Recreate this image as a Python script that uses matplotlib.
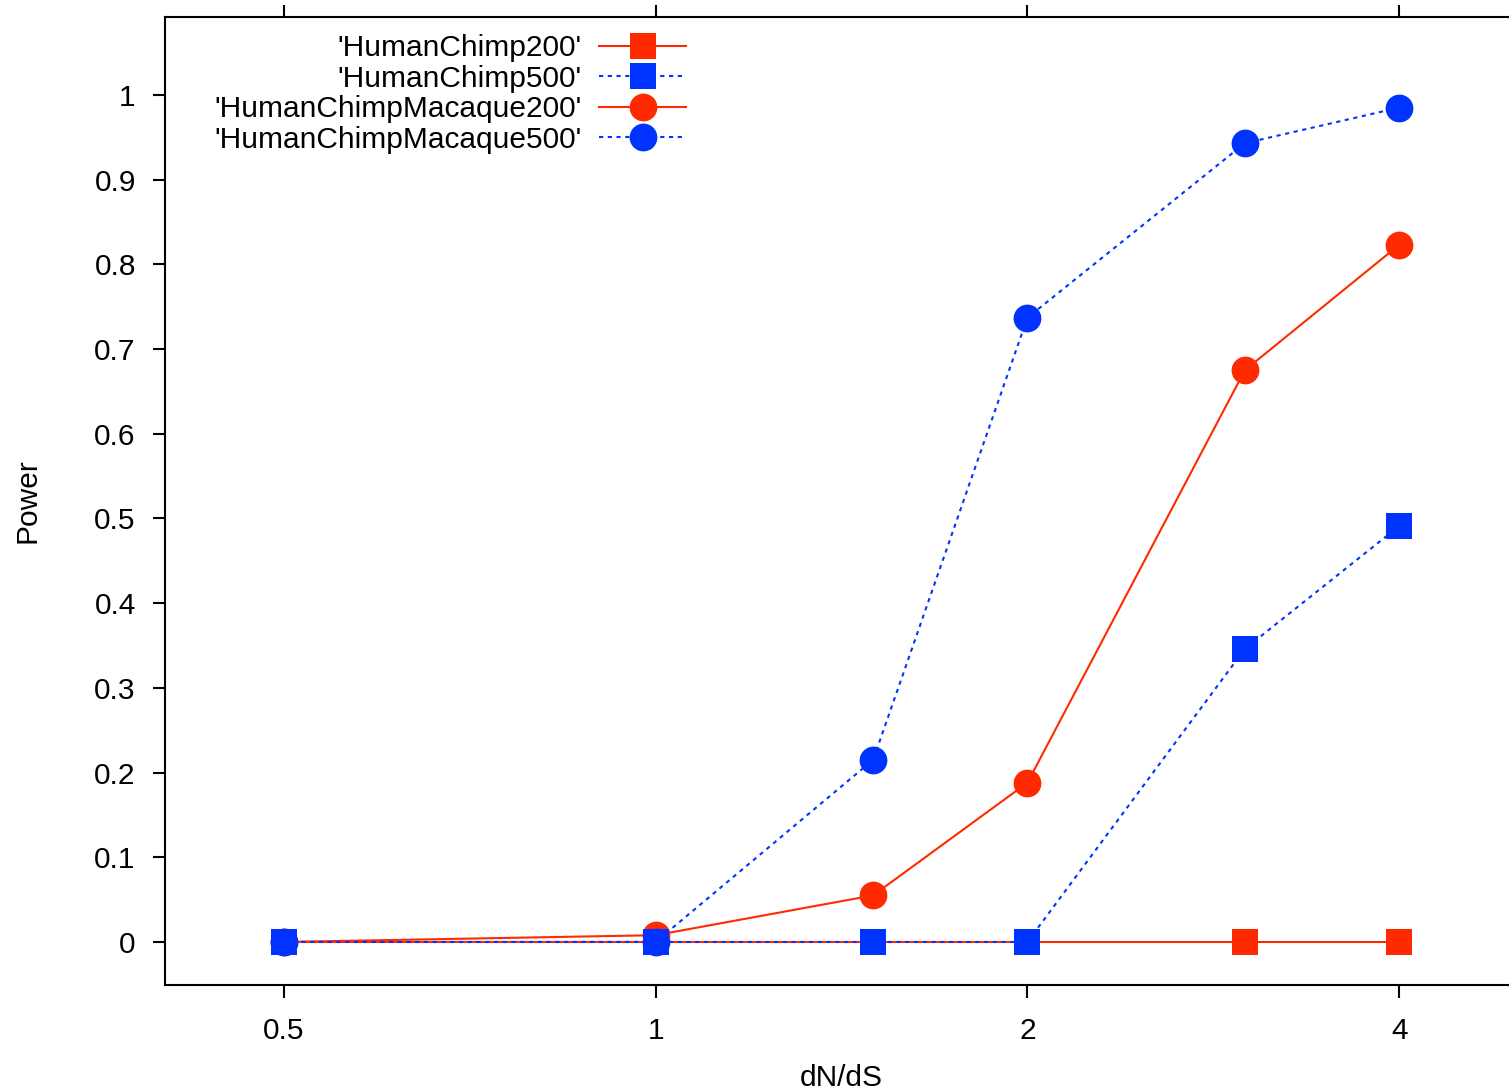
import matplotlib
matplotlib.use("Agg")
import matplotlib.pyplot as plt
from matplotlib.lines import Line2D

plt.rcParams['font.family'] = ['Liberation Sans', 'DejaVu Sans']

dnds = [0.5, 1, 1.5, 2, 3, 4]
hc200 = [0, 0, 0, 0, 0, 0]
hc500 = [0, 0, 0, 0, 0.346, 0.491]
hcm200 = [0, 0.008, 0.055, 0.188, 0.675, 0.823]
hcm500 = [0, 0, 0.215, 0.737, 0.943, 0.985]
labels = ["'HumanChimp200'", "'HumanChimp500'", "'HumanChimpMacaque200'", "'HumanChimpMacaque500'"]
xticks = [0.5, 1, 2, 4]
xticklabels = ['0.5', '1', '2', '4']
yticks = [0, 0.1, 0.2, 0.3, 0.4, 0.5, 0.6, 0.7, 0.8, 0.9, 1]
yticklabels = ['0', '0.1', '0.2', '0.3', '0.4', '0.5', '0.6', '0.7', '0.8', '0.9', '1']

RED = '#ff2a00'
BLUE = '#0033ff'
FS = 21.5
W, H = 1509, 1090
fig = plt.figure(figsize=(W / 100, H / 100), dpi=100)
left, right, top, bottom = 165, 1517, 17, 985
ax = fig.add_axes([left / W, 1 - bottom / H, (right - left) / W, (bottom - top) / H])

series = [hc200, hc500, hcm200, hcm500]
colors = [RED, BLUE, RED, BLUE]
markers = ['s', 's', 'o', 'o']
styles = ['solid', 'dotted', 'solid', 'dotted']
msizes = [19, 19, 20, 20]
mz = [3.5, 3.6, 3.1, 3.2]
handles = []
for ys, c, m, st, ms, lab in zip(series, colors, markers, styles, msizes, labels):
    kw = dict(color=c, lw=1.5)
    if st == 'dotted':
        kw['dashes'] = (2, 2.2)
    ax.plot(dnds, ys, zorder=2, **kw)
    handles.append(Line2D([], [], marker=m, markersize=ms, markeredgewidth=0,
                          markerfacecolor=c, label=lab, **kw))
for ys, c, m, ms, z in zip(series, colors, markers, msizes, mz):
    ax.plot(dnds, ys, linestyle='none', marker=m, markersize=ms,
            markeredgewidth=0, color=c, zorder=z, clip_on=False)

ax.set_xscale('log', base=2)
ax.set_xlim(2 ** -1.32, 2 ** 2.317)
ax.set_ylim(-0.0508, 1.092)
ax.set_xticks(xticks)
ax.set_xticklabels(xticklabels)
ax.minorticks_off()
ax.set_yticks(yticks)
ax.set_yticklabels(yticklabels)
ax.tick_params(axis='both', direction='out', length=9, width=1.5, labelsize=FS)
ax.tick_params(axis='x', top=True, pad=14)
ax.tick_params(axis='y', pad=12)
for s in ['left', 'bottom', 'top']:
    ax.spines[s].set_linewidth(1.5)
ax.spines['right'].set_visible(False)

ax.set_xlabel('dN/dS', fontsize=FS, labelpad=14)
ax.set_ylabel('Power', fontsize=FS, labelpad=38)

leg = ax.legend(handles=handles, loc='upper right', markerfirst=False,
                frameon=False, fontsize=FS, borderpad=0, borderaxespad=0,
                handlelength=2.9, handletextpad=0.6, labelspacing=0.085,
                bbox_to_anchor=(686 / W, 1 - 34 / H), bbox_transform=fig.transFigure)

fig.savefig('out.png', dpi=100)
